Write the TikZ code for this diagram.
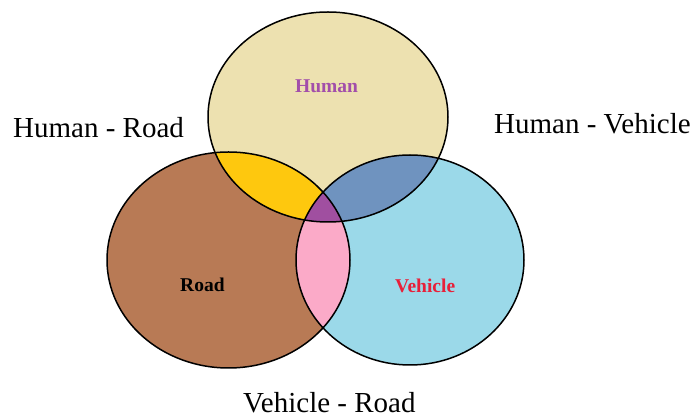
\documentclass[tikz,border=0pt]{standalone}
\usepackage{fontspec}
\setmainfont{Liberation Serif}
\usepackage{xcolor}

\definecolor{humanfill}{HTML}{EDE1B0}
\definecolor{roadfill}{HTML}{B87A55}
\definecolor{vehiclefill}{HTML}{9BD9E9}
\definecolor{humanroadfill}{HTML}{FEC80E}
\definecolor{humanvehiclefill}{HTML}{6F93BF}
\definecolor{vehicleroadfill}{HTML}{FBAAC8}
\definecolor{allfill}{HTML}{A04FA0}
\definecolor{humantext}{HTML}{A24EAA}
\definecolor{vehicletext}{HTML}{E8203A}

\begin{document}
\begin{tikzpicture}[x=1pt, y=-1pt,
  set/.style={draw=black, line width=1.5pt},
  setname/.style={anchor=base west, inner sep=0pt,
                  font=\fontsize{19.5}{20}\selectfont\bfseries},
  pairname/.style={anchor=base west, inner sep=0pt,
                   font=\fontsize{29}{30}\selectfont},
  ]
  \useasboundingbox (0,0) rectangle (697,419);

  % the three sets
  \def\HumanSet{(328,117) ellipse [x radius=120, y radius=105]}
  \def\RoadSet{(228.5,260) ellipse [x radius=121.5, y radius=108]}
  \def\VehicleSet{(410,260) ellipse [x radius=114, y radius=105]}

  \fill[humanfill] \HumanSet;
  \fill[roadfill] \RoadSet;
  \fill[vehiclefill] \VehicleSet;

  % pairwise overlaps
  \begin{scope}
    \clip \HumanSet;
    \fill[humanroadfill] \RoadSet;
    \fill[humanvehiclefill] \VehicleSet;
  \end{scope}
  \begin{scope}
    \clip \RoadSet;
    \fill[vehicleroadfill] \VehicleSet;
  \end{scope}
  % all three
  \begin{scope}
    \clip \HumanSet;
    \clip \RoadSet;
    \fill[allfill] \VehicleSet;
  \end{scope}

  \draw[set] \HumanSet;
  \draw[set] \RoadSet;
  \draw[set] \VehicleSet;

  \node[setname, text=humantext] (human) at (295,93) {Human};
  \node[setname, text=black] (road) at (180,292) {Road};
  \node[setname, text=vehicletext] (vehicle) at (395,293) {Vehicle};

  \node[pairname] (hr) at (13,138) {Human - Road};
  \node[pairname] (hv) at (494,134) {Human - Vehicle};
  \node[pairname] (vr) at (243,413) {Vehicle - Road};
\end{tikzpicture}
\end{document}
